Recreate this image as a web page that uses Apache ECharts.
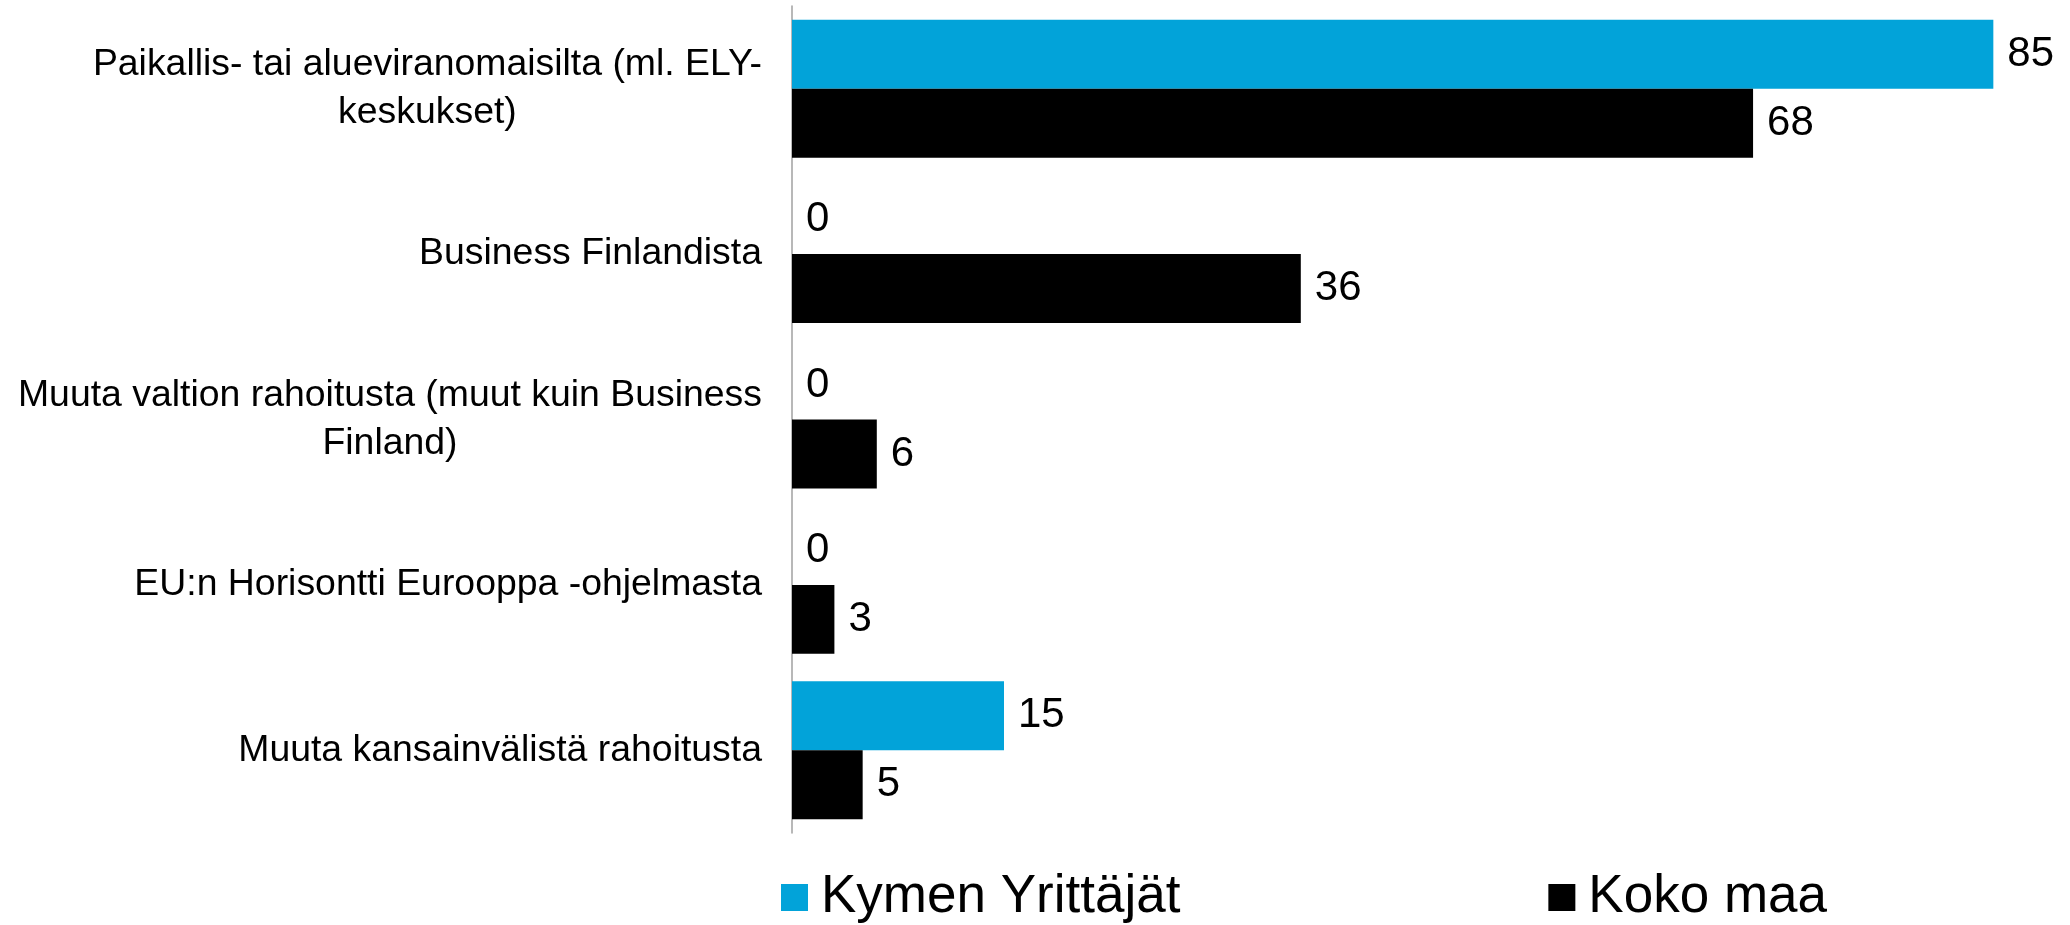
<!DOCTYPE html>
<html>
<head>
<meta charset="utf-8">
<script src="https://cdn.jsdelivr.net/npm/echarts@6/dist/echarts.min.js"></script>
<style>
  html, body { margin: 0; padding: 0; background: #fff; }
  #chart { width: 2070px; height: 925px; }
</style>
</head>
<body>
<div id="chart"></div>
<script>
// categories, top to bottom
const categories = [
    'Paikallis- tai alueviranomaisilta (ml. ELY-\nkeskukset)',
    'Business Finlandista',
    'Muuta valtion rahoitusta (muut kuin Business\nFinland)',
    'EU:n Horisontti Eurooppa -ohjelmasta',
    'Muuta kansainvälistä rahoitusta'
];
const seriesNames = ['Kymen Yrittäjät', 'Koko maa'];
const kymenValues = [85, 0, 0, 0, 15];
const kokoMaaValues = [68, 36, 6, 3, 5];

const FONT = '"Liberation Sans", Arial, sans-serif';

let chart = echarts.init(document.getElementById('chart'));

let option = {
    animation: false,
    textStyle: { fontFamily: FONT },
    grid: {
        top: 6,
        bottom: 92,
        left: 792,
        right: 6
    },
    legend: {
        data: seriesNames,
        left: 776,
        top: 866,
        icon: 'rect',
        itemWidth: 27,
        itemHeight: 27,
        itemGap: 368,
        textStyle: {
            fontSize: 53,
            color: '#000',
            fontFamily: FONT,
            padding: [0, 0, 0, 8]
        }
    },
    xAxis: {
        type: 'value',
        min: 0,
        max: 90,
        show: false
    },
    yAxis: {
        type: 'category',
        inverse: true,
        data: categories,
        axisLine: { lineStyle: { color: '#a0a0a0', width: 1.5 } },
        axisTick: { show: false },
        axisLabel: {
            margin: 30,
            align: 'right',
            // keep wrapped lines centred inside the right-aligned block
            formatter: v => v.split('\n').map(s => '{c|' + s + '}').join('\n'),
            rich: {
                c: {
                    align: 'center',
                    fontSize: 37.4,
                    lineHeight: 48,
                    color: '#000',
                    fontFamily: FONT
                }
            }
        }
    },
    series: [
        {
            name: seriesNames[0],
            type: 'bar',
            data: kymenValues,
            barGap: '0%',
            barCategoryGap: '16.6%',
            itemStyle: { color: '#02a3d9' },
            label: {
                show: true,
                position: 'right',
                distance: 14,
                fontSize: 42,
                color: '#000',
                fontFamily: FONT
            }
        },
        {
            name: seriesNames[1],
            type: 'bar',
            data: kokoMaaValues,
            barGap: '0%',
            barCategoryGap: '16.6%',
            itemStyle: { color: '#000000' },
            label: {
                show: true,
                position: 'right',
                distance: 14,
                fontSize: 42,
                color: '#000',
                fontFamily: FONT
            }
        }
    ]
};

chart.setOption(option);
</script>
</body>
</html>
